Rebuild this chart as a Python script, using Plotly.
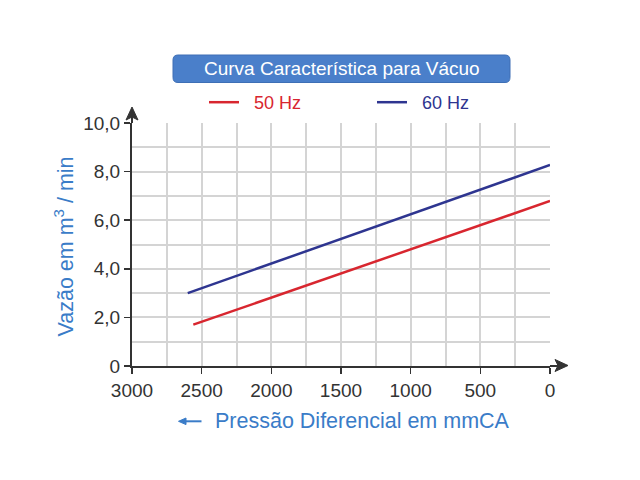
import plotly.graph_objects as go

# ---- data ----
pressure_50hz = [2560, 0]
flow_50hz = [1.70, 6.79]
pressure_60hz = [2600, 0]
flow_60hz = [3.00, 8.27]

series_names = ["50 Hz", "60 Hz"]
x_tick_vals = [3000, 2500, 2000, 1500, 1000, 500, 0]
x_tick_text = ["3000", "2500", "2000", "1500", "1000", "500", "0"]
y_tick_vals = [0, 2, 4, 6, 8, 10]
y_tick_text = ["0", "2,0", "4,0", "6,0", "8,0", "10,0"]

title_text = "Curva Característica para Vácuo"
x_title = "Pressão Diferencial em mmCA"
y_title = "Vazão em m<sup>3</sup> / min"

RED = "#d8262f"
BLUE = "#2e3590"
TITLE_BLUE = "#4a7fca"
AX_BLUE = "#3a7cc8"
AXIS = "#333333"
FONT = "Liberation Sans, Arial, sans-serif"

# page has an 8px body margin; figure is sized so the screen stays 640x480
OFF = 8
W, H = 640 - OFF, 480 - OFF
SL, ST, PW, PH = 132, 123, 418, 243          # plot area in screen pixels
L, T = SL - OFF, ST - OFF
R, B = W - L - PW, H - T - PH


def px(xs):
    return (xs - SL) / PW


def py(ys):
    return (ST + PH - ys) / PH


def poly(points):
    pts = [f"{px(a)},{py(b)}" for a, b in points]
    return "M" + " L".join(pts) + " Z"


NB = "\u00a0\u00a0"

fig = go.Figure()
fig.add_trace(go.Scatter(
    x=pressure_50hz, y=flow_50hz, mode="lines",
    name=f"<span style='color:{RED}'>{NB}{series_names[0]}</span>",
    line=dict(color=RED, width=2.5), legend="legend"))
fig.add_trace(go.Scatter(
    x=pressure_60hz, y=flow_60hz, mode="lines",
    name=f"<span style='color:{BLUE}'>{NB}{series_names[1]}</span>",
    line=dict(color=BLUE, width=2.5), legend="legend2"))

grid = "#d4d4d4"
common_axis = dict(
    showgrid=True, gridcolor=grid, gridwidth=2,
    showline=True, linecolor=AXIS, linewidth=2,
    ticks="outside", ticklen=6, tickwidth=1.5, tickcolor=AXIS,
    tickfont=dict(size=19, color=AXIS, family=FONT),
    zeroline=False, fixedrange=True)
fig.update_xaxes(
    range=[3000, 0], tickvals=x_tick_vals, ticktext=x_tick_text,
    minor=dict(dtick=250, tick0=0, showgrid=True, gridcolor=grid, gridwidth=2),
    ticklabelstandoff=0, **common_axis)
fig.update_yaxes(
    range=[0, 10], tickvals=y_tick_vals, ticktext=y_tick_text,
    minor=dict(dtick=1, tick0=0, showgrid=True, gridcolor=grid, gridwidth=2),
    ticklabelstandoff=0, **common_axis)

# rounded title box
x0, x1 = px(173), px(510)
y0, y1 = py(82.5), py(55)
rx, ry = 5 / PW, 5 / PH
path = (f"M{x0+rx},{y0} L{x1-rx},{y0} Q{x1},{y0} {x1},{y0+ry} "
        f"L{x1},{y1-ry} Q{x1},{y1} {x1-rx},{y1} L{x0+rx},{y1} "
        f"Q{x0},{y1} {x0},{y1-ry} L{x0},{y0+ry} Q{x0},{y0} {x0+rx},{y0} Z")
fig.add_shape(type="path", path=path, xref="paper", yref="paper",
              fillcolor=TITLE_BLUE, line=dict(color="#3e6fb5", width=1))

# axis arrows (extensions + heads)
fig.add_shape(type="line", xref="paper", yref="paper",
              x0=0, x1=0, y0=1, y1=py(114), line=dict(color=AXIS, width=2))
fig.add_shape(type="path", xref="paper", yref="paper",
              path=poly([(132, 107), (138, 120), (132, 117), (126, 120)]),
              fillcolor=AXIS, line=dict(color=AXIS, width=1))
fig.add_shape(type="line", xref="paper", yref="paper",
              x0=1, x1=px(560), y0=0, y1=0, line=dict(color=AXIS, width=2))
fig.add_shape(type="path", xref="paper", yref="paper",
              path=poly([(568, 365.5), (555, 371.5), (558, 365.5), (555, 359.5)]),
              fillcolor=AXIS, line=dict(color=AXIS, width=1))
# small arrow before the x title
fig.add_shape(type="line", xref="paper", yref="paper",
              x0=px(184), x1=px(201.5), y0=py(421.3), y1=py(421.3),
              line=dict(color=AX_BLUE, width=2))
fig.add_shape(type="path", xref="paper", yref="paper",
              path=poly([(178.5, 421.3), (186, 418), (186, 424.6)]),
              fillcolor=AX_BLUE, line=dict(color=AX_BLUE, width=1))

annotations = [
    dict(text=title_text, x=px(341.5), y=py(68.5), xref="paper", yref="paper",
         showarrow=False, xanchor="center", yanchor="middle",
         font=dict(size=19, color="white", family=FONT)),
    dict(text=x_title, x=px(213), y=py(421), xref="paper", yref="paper",
         showarrow=False, xanchor="left", yanchor="middle",
         font=dict(size=21.5, color=AX_BLUE, family=FONT)),
    dict(text=y_title, x=px(63), y=py(246.5), xref="paper", yref="paper",
         showarrow=False, xanchor="center", yanchor="middle", textangle=-90,
         font=dict(size=21.5, color=AX_BLUE, family=FONT)),
]

legend_common = dict(orientation="h", yanchor="middle", xanchor="left",
                     font=dict(size=18, family=FONT),
                     bgcolor="rgba(0,0,0,0)", borderwidth=0,
                     itemclick=False, itemdoubleclick=False)

fig.update_layout(
    width=W, height=H,
    margin=dict(l=L, r=R, t=T, b=B, autoexpand=False),
    paper_bgcolor="white", plot_bgcolor="white",
    font=dict(family=FONT, size=18, color=AXIS),
    showlegend=True,
    legend=dict(x=px(204), y=py(102.5), **legend_common),
    legend2=dict(x=px(372), y=py(102.5), **legend_common),
    annotations=annotations,
)

fig.write_html("out.html", config={"displayModeBar": False, "staticPlot": True})
